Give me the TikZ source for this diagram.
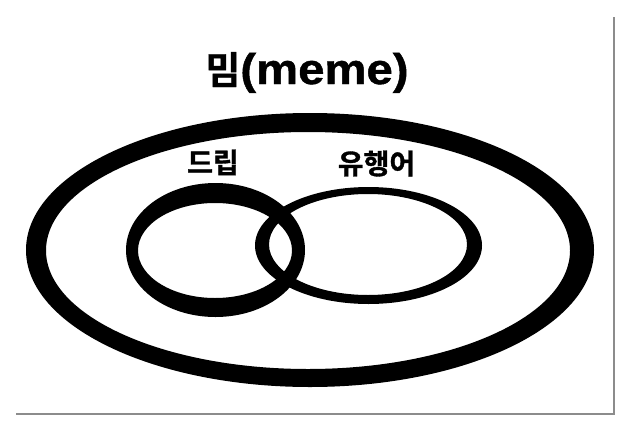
\documentclass[tikz,border=0pt]{standalone}
\usepackage{fontspec}
\newfontfamily\krfont{Noto Sans CJK KR Bold}[FakeBold=1.2]
\newfontfamily\latfont{Liberation Sans Bold}[FakeBold=1]
\begin{document}
\begin{tikzpicture}[x=1pt,y=-1pt,
  ring/.style={fill=black,even odd rule},
  title/.style={inner sep=0pt,anchor=base,font=\krfont\fontsize{38}{40}\selectfont},
  label/.style={inner sep=0pt,anchor=base,font=\krfont\fontsize{28}{30}\selectfont},
  shadowline/.style={draw=black!45,line width=2pt}]
\useasboundingbox (0,0) rectangle (628,428);
\fill[white] (0,0) rectangle (628,428);
% frame shadow
\coordinate (fbl) at (16,414);
\coordinate (fbr) at (614,414);
\coordinate (ftr) at (614,17);
\draw[shadowline] (fbl) -- (fbr) -- (ftr);
% outer ring (meme)
\fill[ring] (310,250) ellipse [x radius=284pt, y radius=137pt]
            (308,250.5) ellipse [x radius=262pt, y radius=118.5pt];
% left ring (drip)
\fill[ring] (215.5,250) ellipse [x radius=89.5pt, y radius=67pt]
            (215,250.5) ellipse [x radius=77pt, y radius=47.5pt];
% right ring (buzzword)
\fill[ring] (368.5,245.5) ellipse [x radius=113.5pt, y radius=58.5pt]
            (368,244.5) ellipse [x radius=99pt, y radius=50.5pt];
% texts
\node[title] (ttl) at (307,84) {밈\scalebox{1.1}[1]{\latfont\fontsize{43}{45}\selectfont (meme)}};
\node[label] (drip) at (213,173) {드립};
\node[label] (buzz) at (376.5,174) {유행어};
\end{tikzpicture}
\end{document}
